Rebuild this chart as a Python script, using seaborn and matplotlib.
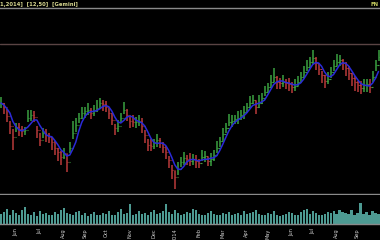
import numpy as np
import pandas as pd
import matplotlib
matplotlib.use("Agg")
import matplotlib.pyplot as plt
import seaborn as sns

# closing levels (one bar every ~3 px), in chart units
close = [97, 93, 84, 74, 63, 73, 71, 69, 70, 82, 85, 83, 70, 60, 67, 65, 63, 58, 52, 48,
         43, 47, 38, 52, 67, 75, 82, 87, 89, 90, 87, 89, 92, 97, 96, 93, 87, 80, 72, 74,
         82, 90, 85, 79, 78, 78, 79, 74, 65, 55, 54, 57, 60, 57, 53, 48, 40, 30, 23, 31,
         38, 42, 41, 39, 41, 39, 37, 43, 44, 39, 41, 45, 52, 59, 66, 72, 78, 79, 81, 82,
         85, 88, 93, 97, 100, 93, 97, 102, 108, 113, 118, 123, 118, 117, 118, 117, 116, 113, 114, 118,
         123, 128, 133, 138, 142, 137, 131, 125, 119, 121, 128, 134, 138, 140, 137, 132, 127, 122, 118, 115,
         112, 115, 116, 113, 123, 135, 143]
up = [6, 4, 7, 5, 8, 4, 6, 5, 3, 8, 5, 6, 4, 7, 5, 6, 4, 5, 7, 4,
      6, 5, 8, 6, 12, 7, 5, 6, 4, 7, 5, 6, 8, 5, 4, 6, 5, 7, 4, 6,
      5, 8, 6, 4, 7, 5, 6, 8, 5, 6, 7, 4, 6, 5, 5, 6, 4, 5, 6, 7,
      5, 6, 4, 8, 5, 6, 4, 7, 5, 4, 6, 5, 7, 4, 6, 5, 8, 6, 4, 7,
      5, 6, 4, 7, 5, 6, 8, 5, 6, 4, 7, 9, 6, 5, 7, 4, 6, 5, 7, 6,
      5, 6, 7, 5, 8, 6, 5, 4, 6, 7, 5, 6, 8, 5, 4, 6, 7, 5, 6, 4,
      7, 6, 5, 8, 6, 5, 7]
dn = [5, 7, 6, 8, 13, 5, 7, 6, 5, 4, 6, 5, 8, 6, 5, 7, 6, 8, 7, 9,
      8, 6, 10, 5, 6, 7, 5, 6, 7, 5, 6, 5, 4, 6, 7, 5, 6, 5, 7, 6,
      5, 4, 6, 7, 5, 6, 5, 7, 8, 6, 5, 6, 7, 5, 6, 7, 8, 9, 12, 6,
      5, 7, 6, 5, 6, 7, 5, 4, 6, 5, 7, 6, 5, 6, 7, 5, 4, 6, 5, 6,
      5, 7, 6, 5, 4, 7, 5, 6, 4, 5, 6, 5, 7, 6, 5, 6, 7, 6, 5, 4,
      5, 6, 4, 5, 6, 7, 6, 8, 7, 5, 6, 5, 4, 6, 7, 8, 7, 8, 9, 7,
      6, 7, 8, 6, 5, 6, 4]
volume = [12, 14, 18, 11, 16, 13, 10, 17, 20, 12, 11, 14, 9, 15, 12, 13, 10, 11, 14, 12,
          16, 19, 13, 12, 10, 14, 15, 11, 13, 9, 12, 14, 11, 10, 13, 12, 15, 11, 10, 14,
          18, 12, 13, 24, 11, 12, 15, 12, 13, 11, 14, 16, 12, 13, 15, 23, 14, 12, 17, 13,
          11, 12, 14, 13, 18, 16, 12, 10, 11, 13, 15, 12, 10, 11, 13, 12, 14, 11, 12, 13,
          11, 15, 12, 13, 14, 16, 12, 11, 10, 13, 12, 15, 11, 9, 10, 12, 14, 13, 11, 10,
          14, 16, 18, 12, 15, 13, 11, 10, 12, 14, 13, 15, 12, 17, 14, 13, 12, 16, 11, 13,
          25, 12, 14, 11, 15, 13, 12]
resistance = 156
month_labels = ["Jun", "Jul", "Aug", "Sep", "Oct", "Nov", "Dec", "2014",
                "Feb", "Mar", "Apr", "May", "Jun", "Jul", "Aug", "Sep"]
month_pos = [5, 13, 21, 28, 35, 43, 51, 58, 66, 74, 82, 89, 97, 104, 112, 119]

df = pd.DataFrame({"close": close, "up": up, "dn": dn, "volume": volume})
df["i"] = np.arange(len(df))
df["high"] = df["close"] + df["up"]
df["low"] = df["close"] - df["dn"]
df["open"] = df["close"].shift(1).fillna(df["close"])
df["ma"] = df["close"].rolling(4, min_periods=1).mean()

sns.set_theme(style="dark", rc={"axes.facecolor": "black", "figure.facecolor": "black"})
plt.rcParams["font.family"] = ["DejaVu Sans"]

fig = plt.figure(figsize=(3.8, 2.4), dpi=100)
ax = fig.add_axes([0, (240 - 194) / 240, 1, (194 - 8) / 240])
axv = fig.add_axes([0, (240 - 224) / 240, 1, 29 / 240])

green = "#3aa040"
red = "#b83a3a"
cols = np.where(df["close"] >= df["open"], green, red)
ax.vlines(df["i"], df["low"], df["high"], colors=cols, linewidth=1.1)
ax.hlines(df["open"], df["i"] - 0.4, df["i"], colors=cols, linewidth=0.8)
ax.hlines(df["close"], df["i"], df["i"] + 0.4, colors=cols, linewidth=0.8)
sns.lineplot(x="i", y="ma", data=df, ax=ax, color="#2a2ad8", linewidth=1.1)
ax.axhline(resistance, color="#5a4444", linewidth=1.0)

xlim = (-0.3, 126.5)
ax.set_ylim(6, 192)
ax.set_xlim(*xlim)
ax.set_xticks([])
ax.set_yticks([])
ax.set_xlabel("")
ax.set_ylabel("")
for s in ["left", "right"]:
    ax.spines[s].set_visible(False)
for s in ["top", "bottom"]:
    ax.spines[s].set_visible(True)
    ax.spines[s].set_color("#8a8a8a")
    ax.spines[s].set_linewidth(1.0)

axv.bar(df["i"], df["volume"], width=0.7, color="#4d9a92", linewidth=0)
axv.set_xlim(*xlim)
axv.set_ylim(0, 34)
axv.set_yticks([])
axv.set_xticks(month_pos)
axv.set_xticklabels(month_labels, rotation=90, fontsize=3.6, color="#cfcfcf")
axv.tick_params(axis="x", length=2, pad=1, color="#888888")
for s in ["left", "right", "top"]:
    axv.spines[s].set_visible(False)
axv.spines["bottom"].set_visible(True)
axv.spines["bottom"].set_color("#8a8a8a")
axv.spines["bottom"].set_linewidth(1.0)

fig.text(0.0, 0.992, "1,2014]  [12,50]  [Gemini]", color="#d8d890", fontsize=3.8,
         va="top", ha="left", fontweight="bold")
fig.text(0.997, 0.992, "FN", color="#c8d060", fontsize=3.8, va="top", ha="right",
         fontweight="bold")

fig.savefig("out.png", dpi=100, facecolor="black")
